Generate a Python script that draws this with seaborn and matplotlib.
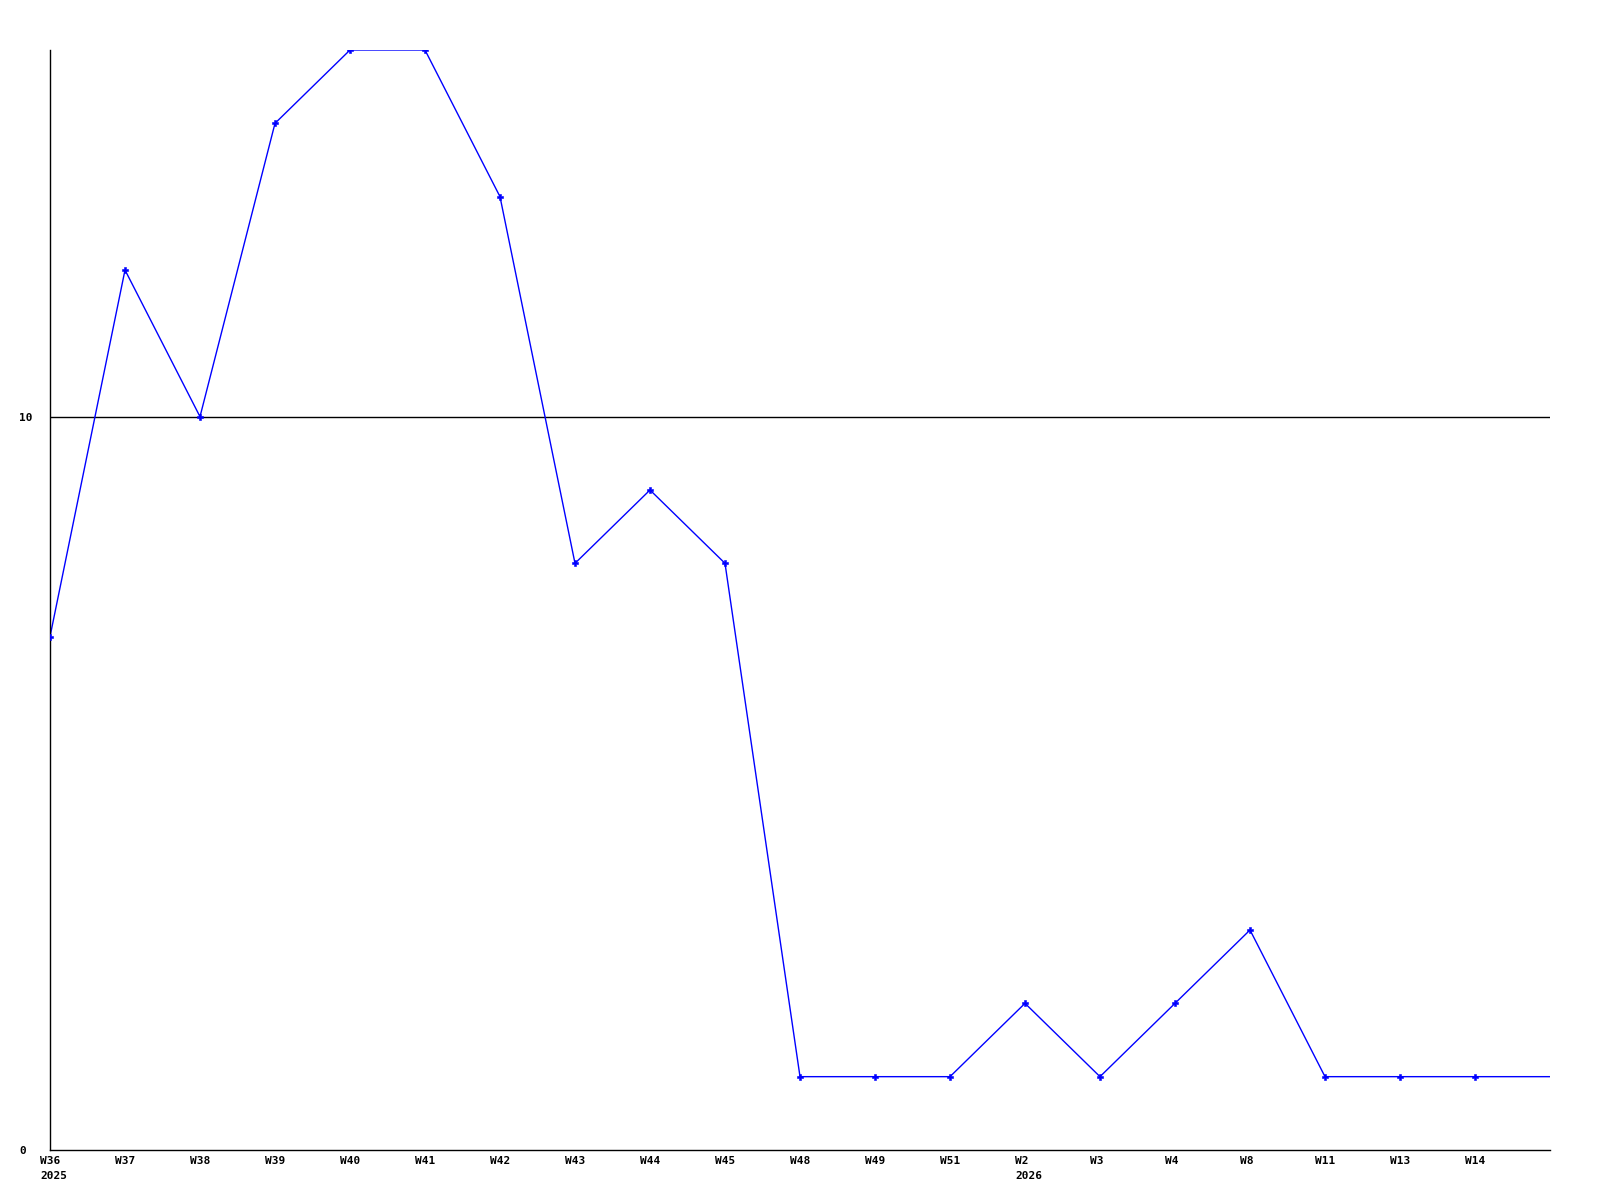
import matplotlib
matplotlib.use("Agg")
import matplotlib.pyplot as plt
import matplotlib.transforms as mtransforms
import seaborn as sns
import pandas as pd

# Data
weeks = ["W36", "W37", "W38", "W39", "W40", "W41", "W42", "W43", "W44", "W45",
         "W48", "W49", "W51", "W2", "W3", "W4", "W8", "W11", "W13", "W14"]
years = {"W36": "2025", "W2": "2026"}
counts = [7, 12, 10, 14, 15, 15, 13, 8, 9, 8,
          1, 1, 1, 2, 1, 2, 3, 1, 1, 1]
# current (unfinished) week, drawn as line only
current_count = 1

df = pd.DataFrame({"pos": range(len(weeks)), "count": counts})
line_df = pd.DataFrame({"pos": range(len(weeks) + 1), "count": counts + [current_count]})

sns.set_style("white")
plt.rcParams["font.family"] = ["DejaVu Sans Mono", "DejaVu Sans"]

fig = plt.figure(figsize=(16, 12), dpi=100)
ax = fig.add_axes([50 / 1600, 50 / 1200, 1500 / 1600, 1100 / 1200])

ax.axhline(10, color="black", lw=1, zorder=1)
sns.lineplot(data=line_df, x="pos", y="count", color="#0000ff", lw=1, ax=ax, zorder=2)
sns.scatterplot(data=df, x="pos", y="count", color="#0000ff", marker="P", s=16,
                edgecolor="#0000ff", linewidth=0.4, ax=ax, zorder=3)

ax.set_xlim(0, len(weeks))
ax.set_ylim(0, 15)

# x labels: left-aligned, shifted a little left of each point
ax.set_xticks([])
trans = mtransforms.blended_transform_factory(ax.transData, ax.transAxes)
shift = mtransforms.ScaledTranslation(-10 / 100, -6 / 100, fig.dpi_scale_trans)
for i, w in enumerate(weeks):
    label = w + ("\n" + years[w] if w in years else "")
    ax.text(i, 0, label, transform=trans + shift, ha="left", va="top",
            fontsize=8, fontweight="bold", color="black", linespacing=1.6)

# y labels left-aligned near the figure edge
ax.set_yticks([0, 10])
ax.set_yticklabels(["0", "10"], fontsize=8, fontweight="bold", color="black",
                   ha="left")
ax.tick_params(axis="y", length=0, pad=22)

ax.set_xlabel("")
ax.set_ylabel("")
for side in ["top", "right"]:
    ax.spines[side].set_visible(False)
for side in ["left", "bottom"]:
    ax.spines[side].set_color("black")
    ax.spines[side].set_linewidth(1)

fig.savefig("out.png", dpi=100, facecolor="white")
